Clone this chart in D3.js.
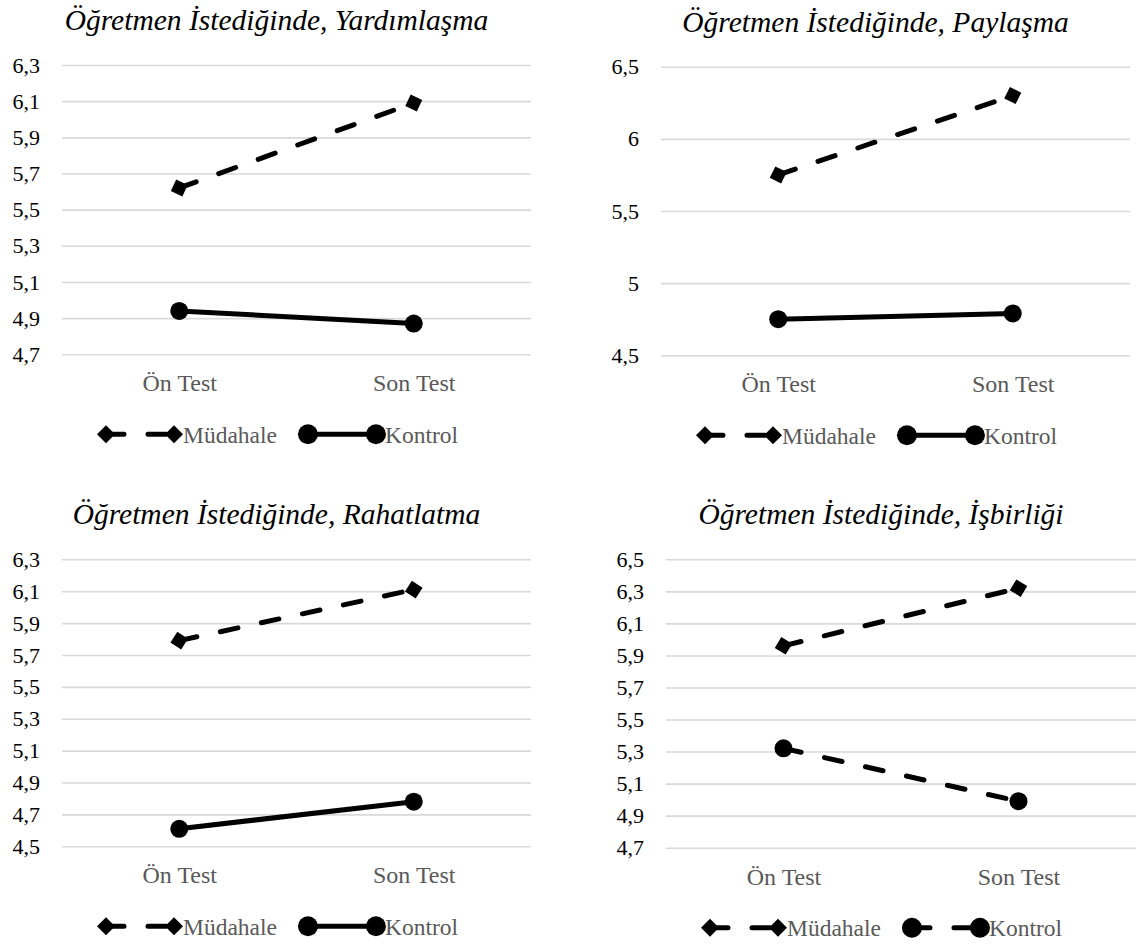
<!DOCTYPE html>
<html>
<head>
<meta charset="utf-8">
<script src="https://cdn.jsdelivr.net/npm/d3@7"></script>
<style>
  body { margin: 0; background: #fff; }
</style>
</head>
<body>
<script>
/* ---------- données ---------- */
const categories = ["Ön Test", "Son Test"];
const seriesNames = ["Müdahale", "Kontrol"];
const chartTitles = [
    "Öğretmen İstediğinde, Yardımlaşma",
    "Öğretmen İstediğinde, Paylaşma",
    "Öğretmen İstediğinde, Rahatlatma",
    "Öğretmen İstediğinde, İşbirliği"
];
const mudahaleValues = [[5.62, 6.09], [5.75, 6.30], [5.79, 6.11], [5.96, 6.32]];
const kontrolValues = [[4.94, 4.87], [4.75, 4.79], [4.61, 4.78], [5.32, 4.99]];
const yTicks = [
    [4.7, 4.9, 5.1, 5.3, 5.5, 5.7, 5.9, 6.1, 6.3],
    [4.5, 5, 5.5, 6, 6.5],
    [4.5, 4.7, 4.9, 5.1, 5.3, 5.5, 5.7, 5.9, 6.1, 6.3],
    [4.7, 4.9, 5.1, 5.3, 5.5, 5.7, 5.9, 6.1, 6.3, 6.5]
];
const kontrolDashed = [false, false, false, true];

/* ---------- mise en page ---------- */
var width = 1139;
var height = 944;
var panels = [
    { left: 62, right: 531, top: 65, bottom: 354.3 },
    { left: 661, right: 1130, top: 66.7, bottom: 355.3 },
    { left: 62, right: 531, top: 559.3, bottom: 846.3 },
    { left: 666, right: 1136, top: 559.3, bottom: 847.7 }
];
var serif = "'Liberation Serif', 'Times New Roman', 'DejaVu Serif', serif";
var dash = "18,24";
var lineW = 5;

var svg = d3.select("body")
    .append("svg")
    .attr("width", width)
    .attr("height", height);

function diamond(s) {
    return "M0," + (-s) + "L" + s + ",0L0," + s + "L" + (-s) + ",0Z";
}

function drawMarker(g, type, x, y, angle, r) {
    if (type == "diamond") {
        g.append("path")
            .attr("d", diamond(9))
            .attr("transform", "translate(" + x + "," + y + ") rotate(" + angle + ")")
            .attr("fill", "#000");
    } else {
        g.append("circle")
            .attr("cx", x).attr("cy", y).attr("r", r || 9)
            .attr("fill", "#000");
    }
}

panels.forEach(function (p, k) {
    var g = svg.append("g");
    var ticks = yTicks[k];

    var xscale = d3.scalePoint()
        .domain(categories)
        .range([p.left, p.right])
        .padding(0.5);

    var yscale = d3.scaleLinear()
        .domain([ticks[0], ticks[ticks.length - 1]])
        .range([p.bottom, p.top]);

    // axe y + grille
    var yAxis = d3.axisLeft(yscale)
        .tickValues(ticks)
        .tickSize(-(p.right - p.left))
        .tickPadding(22)
        .tickFormat(function (d) { return String(d).replace(".", ","); });

    var ya = g.append("g")
        .attr("transform", "translate(" + p.left + ",0)")
        .call(yAxis)
        .attr("font-family", serif)
        .attr("font-size", 22);
    ya.select(".domain").remove();
    ya.selectAll("line").attr("stroke", "#d9d9d9").attr("stroke-width", 1.6);
    ya.selectAll("text").attr("fill", "#000");

    // axe x
    var xAxis = d3.axisBottom(xscale).tickSize(0).tickPadding(20);
    var xa = g.append("g")
        .attr("transform", "translate(0," + p.bottom + ")")
        .call(xAxis)
        .attr("font-family", serif)
        .attr("font-size", 24);
    xa.select(".domain").remove();
    xa.selectAll("text").attr("fill", "#595959");

    // titre
    g.append("text")
        .attr("x", (p.left + p.right) / 2 - 20)
        .attr("y", p.top - 35)
        .attr("text-anchor", "middle")
        .attr("font-family", serif)
        .attr("font-style", "italic")
        .attr("font-size", 29.5)
        .attr("fill", "#000")
        .text(chartTitles[k]);

    // séries
    var series = [
        { values: mudahaleValues[k], dashed: true, marker: "diamond" },
        { values: kontrolValues[k], dashed: kontrolDashed[k], marker: "circle" }
    ];

    var line = d3.line()
        .x(function (d, i) { return xscale(categories[i]); })
        .y(function (d) { return yscale(d); });

    series.forEach(function (s) {
        g.append("path")
            .datum(s.values)
            .attr("d", line)
            .attr("fill", "none")
            .attr("stroke", "#000")
            .attr("stroke-width", lineW)
            .attr("stroke-linecap", "round")
            .attr("stroke-dasharray", s.dashed ? dash : null);

        var x0 = xscale(categories[0]), y0 = yscale(s.values[0]);
        var x1 = xscale(categories[1]), y1 = yscale(s.values[1]);
        var angle = Math.atan2(y1 - y0, x1 - x0) * 180 / Math.PI;
        drawMarker(g, s.marker, x0, y0, angle);
        drawMarker(g, s.marker, x1, y1, angle);
    });

    // légende
    var ly = p.bottom + 80;
    var lx = p.left + 44;
    series.forEach(function (s, j) {
        g.append("line")
            .attr("x1", lx).attr("x2", lx + 68)
            .attr("y1", ly).attr("y2", ly)
            .attr("stroke", "#000")
            .attr("stroke-width", lineW)
            .attr("stroke-linecap", "round")
            .attr("stroke-dasharray", s.dashed ? dash : null);
        drawMarker(g, s.marker, lx, ly, 0, 10);
        drawMarker(g, s.marker, lx + 68, ly, 0, 10);
        var t = g.append("text")
            .attr("x", lx + 77)
            .attr("y", ly)
            .attr("dy", "0.35em")
            .attr("font-family", serif)
            .attr("font-size", 23.5)
            .attr("fill", "#595959")
            .text(seriesNames[j]);
        lx = lx + 77 + t.node().getComputedTextLength() + 31;
    });
});
</script>
</body>
</html>
